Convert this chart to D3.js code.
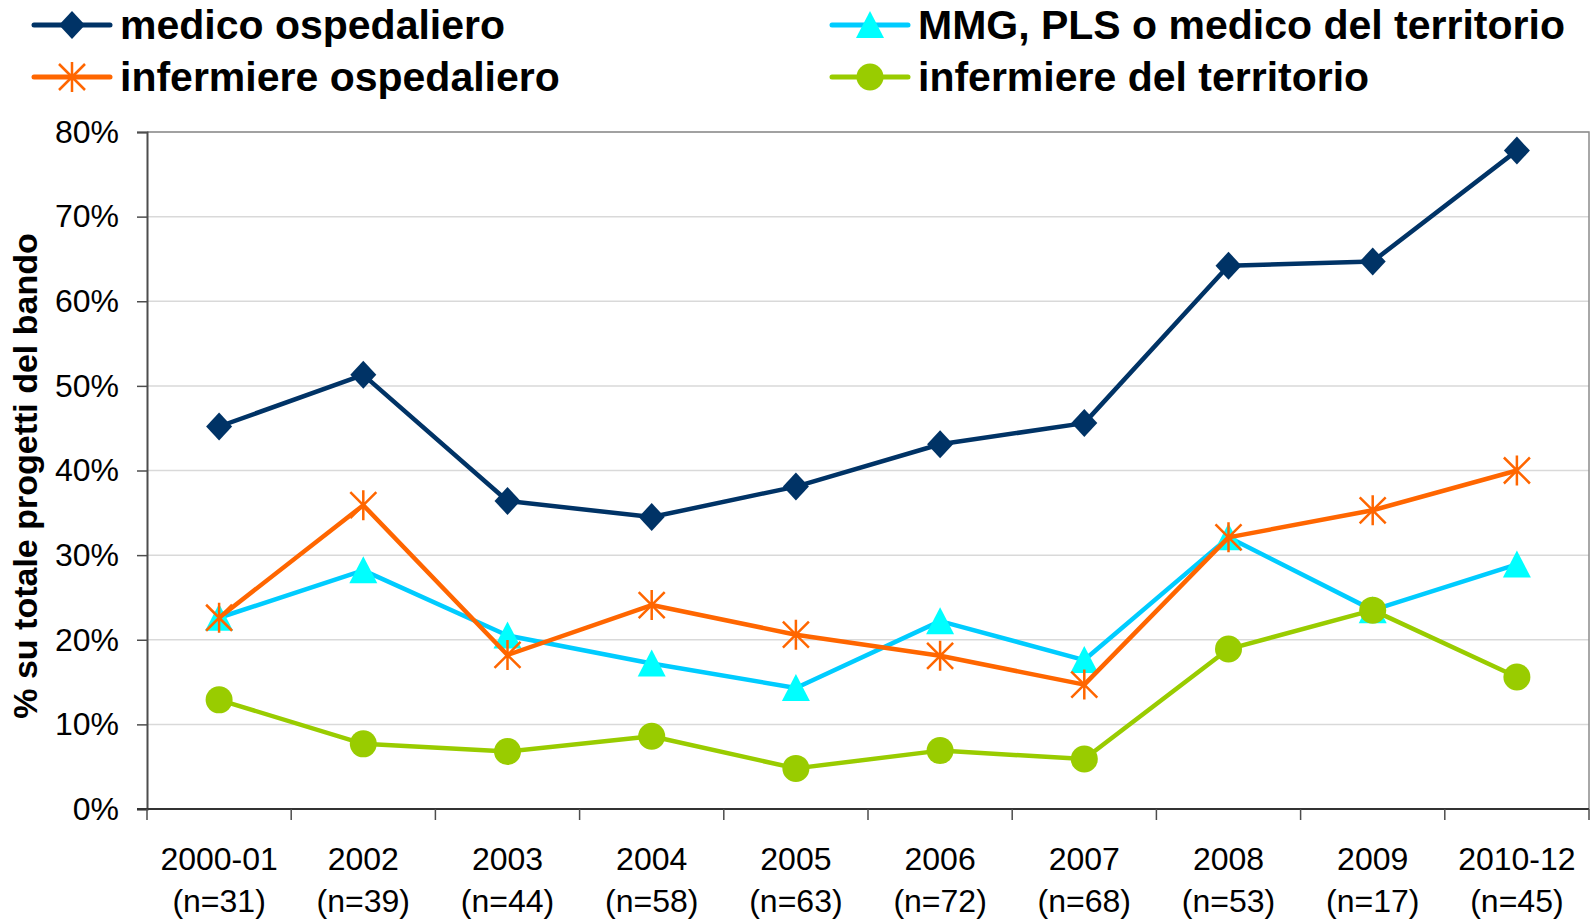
<!DOCTYPE html>
<html>
<head>
<meta charset="utf-8">
<script src="https://cdn.jsdelivr.net/npm/d3@7"></script>
<style>
  body { margin: 0; background: #fff; }
  svg { display: block; font-family: "Liberation Sans", Arial, sans-serif; }
</style>
</head>
<body>
<svg id="chart" width="1592" height="922"></svg>
<script>
// categories and sample sizes
const years = ['2000-01', '2002', '2003', '2004', '2005', '2006', '2007', '2008', '2009', '2010-12'];
const sampleSizes = ['(n=31)', '(n=39)', '(n=44)', '(n=58)', '(n=63)', '(n=72)', '(n=68)', '(n=53)', '(n=17)', '(n=45)'];
const yTicks = [0, 10, 20, 30, 40, 50, 60, 70, 80];

// % of projects per call
const medicoOsp = [45.2, 51.3, 36.4, 34.5, 38.1, 43.1, 45.6, 64.2, 64.7, 77.8];
const mmgTerritorio = [22.6, 28.2, 20.5, 17.2, 14.3, 22.2, 17.6, 32.1, 23.5, 28.9];
const infermiereOsp = [22.6, 35.9, 18.2, 24.1, 20.6, 18.1, 14.7, 32.1, 35.3, 40.0];
const infermiereTerr = [12.9, 7.7, 6.8, 8.6, 4.8, 6.9, 5.9, 18.9, 23.5, 15.6];

const series = [
  { name: 'medico ospedaliero', values: medicoOsp, line: '#003366', fill: '#003366', marker: 'diamond' },
  { name: 'MMG, PLS o medico del territorio', values: mmgTerritorio, line: '#00ccff', fill: '#00ffff', marker: 'triangle' },
  { name: 'infermiere ospedaliero', values: infermiereOsp, line: '#ff6600', fill: '#ff6600', marker: 'star' },
  { name: 'infermiere del territorio', values: infermiereTerr, line: '#99cc00', fill: '#99cc00', marker: 'circle' }
];

const plot = { left: 147, right: 1589, top: 132, bottom: 809 };
const svg = d3.select('#chart');

const x = d3.scaleBand().domain(years).range([plot.left, plot.right]);
const y = d3.scaleLinear().domain([0, 80]).range([plot.bottom, plot.top]);

// gridlines
svg.append('g').selectAll('line')
  .data(yTicks.filter(t => t > 0))
  .join('line')
  .attr('x1', plot.left).attr('x2', plot.right)
  .attr('y1', d => y(d)).attr('y2', d => y(d))
  .attr('stroke', '#d9d9d9').attr('stroke-width', 1.5);

// plot area border (top, right)
svg.append('path')
  .attr('d', `M${plot.left},${plot.top}H${plot.right}V${plot.bottom}`)
  .attr('fill', 'none').attr('stroke', '#8c8c8c').attr('stroke-width', 1.5);

// y axis
const yAxis = svg.append('g')
  .attr('transform', `translate(${plot.left},0)`)
  .call(d3.axisLeft(y).tickValues(yTicks).tickFormat(d => d + '%').tickSizeOuter(0).tickSize(10).tickPadding(18));
yAxis.select('.domain').attr('stroke', '#4d4d4d').attr('stroke-width', 2);
yAxis.selectAll('.tick line').attr('stroke', '#4d4d4d').attr('stroke-width', 1.5);
yAxis.selectAll('.tick text').attr('font-size', 32).attr('fill', '#000')
  .attr('font-family', '"Liberation Sans", Arial, sans-serif');

// x axis: ticks between categories
const xg = svg.append('g');
xg.append('line')
  .attr('x1', plot.left - 10).attr('x2', plot.right)
  .attr('y1', plot.bottom).attr('y2', plot.bottom)
  .attr('stroke', '#333').attr('stroke-width', 2);
xg.selectAll('.xtick')
  .data(d3.range(years.length + 1))
  .join('line')
  .attr('class', 'xtick')
  .attr('x1', i => plot.left + i * x.step()).attr('x2', i => plot.left + i * x.step())
  .attr('y1', plot.bottom).attr('y2', plot.bottom + 11)
  .attr('stroke', '#4d4d4d').attr('stroke-width', 1.5);
const xl = xg.selectAll('.xlabel')
  .data(years)
  .join('text')
  .attr('class', 'xlabel')
  .attr('text-anchor', 'middle')
  .attr('font-size', 32);
xl.append('tspan')
  .attr('x', d => x(d) + x.bandwidth() / 2).attr('y', 870)
  .text(d => d);
xl.append('tspan')
  .attr('x', d => x(d) + x.bandwidth() / 2).attr('y', 912)
  .text((d, i) => sampleSizes[i]);

// y axis title
svg.append('text')
  .attr('transform', 'translate(37,476) rotate(-90)')
  .attr('text-anchor', 'middle')
  .attr('font-size', 34).attr('font-weight', 'bold')
  .text('% su totale progetti del bando');

function drawMarker(g, type, fill, stroke) {
  if (type === 'diamond') {
    g.append('path').attr('d', 'M0,-14L13,0L0,14L-13,0Z').attr('fill', fill);
  } else if (type === 'triangle') {
    g.append('path').attr('d', 'M0,-14L14,13L-14,13Z').attr('fill', fill);
  } else if (type === 'circle') {
    g.append('circle').attr('r', 13.5).attr('fill', fill);
  } else if (type === 'star') {
    g.append('path').attr('d', 'M-13,-13L13,13M-13,13L13,-13M0,-15V15')
      .attr('stroke', stroke).attr('stroke-width', 2.5).attr('fill', 'none');
  }
}

const cx = (d, i) => x(years[i]) + x.bandwidth() / 2;
const line = d3.line().x(cx).y(d => y(d));

series.forEach(s => {
  const g = svg.append('g');
  g.append('path')
    .attr('d', line(s.values))
    .attr('fill', 'none').attr('stroke', s.line).attr('stroke-width', 4.5)
    .attr('stroke-linejoin', 'round');
  s.values.forEach((v, i) => {
    const m = g.append('g').attr('transform', `translate(${cx(v, i)},${y(v)})`);
    drawMarker(m, s.marker, s.fill, s.line);
  });
});

// legend
const legendPos = [
  { x: 34, y: 25 }, { x: 832, y: 25 }, { x: 34, y: 77 }, { x: 832, y: 77 }
];
series.forEach((s, i) => {
  const p = legendPos[i];
  const g = svg.append('g').attr('transform', `translate(${p.x},${p.y})`);
  g.append('line').attr('x1', 0).attr('x2', 76).attr('y1', 0).attr('y2', 0)
    .attr('stroke', s.line).attr('stroke-width', 5).attr('stroke-linecap', 'round');
  drawMarker(g.append('g').attr('transform', 'translate(38,0)'), s.marker, s.fill, s.line);
  g.append('text')
    .attr('x', 86).attr('y', 14)
    .attr('font-size', 41).attr('font-weight', 'bold')
    .text(s.name);
});
</script>
</body>
</html>
